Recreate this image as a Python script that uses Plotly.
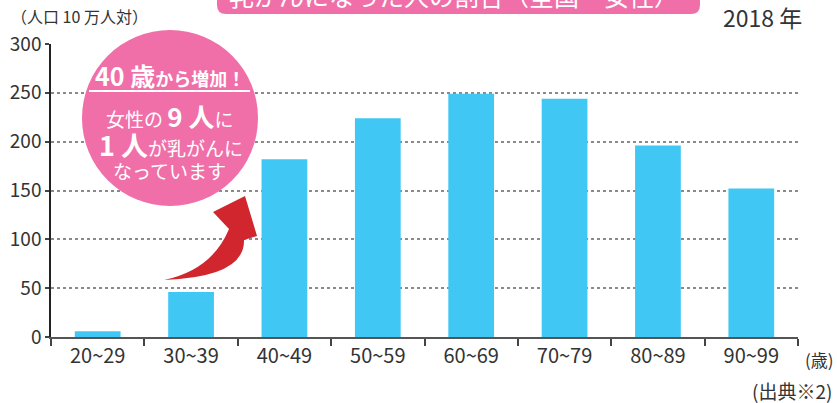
import plotly.graph_objects as go

categories = ["20~29", "30~39", "40~49", "50~59", "60~69", "70~79", "80~89", "90~99"]
values = [6, 46, 182, 224, 249, 244, 196, 152]
y_ticks = [0, 50, 100, 150, 200, 250, 300]

W, H = 837, 403
X0, X1, Y0, Y1 = 51, 798, 44, 337
L, T, R, B = X0, Y0, W - X1, H - Y1
PW, PH = X1 - X0, Y1 - Y0

def px(x):
    return (x - X0) / PW

def py(y):
    return (Y1 - y) / PH

def pt(x, y):
    return f"{px(x):.4f},{py(y):.4f}"

FONT = "Noto Sans CJK JP, Noto Sans, sans-serif"
PINK = "#F06FA8"
BAR = "#41C7F3"
TXT = "#333333"

fig = go.Figure(go.Bar(x=categories, y=values, marker_color=BAR, marker_line_width=0, width=0.49))

shapes = []
r = 9
shapes.append(dict(type="path", xref="paper", yref="paper", layer="above",
    path=(f"M {pt(217,-30)} L {pt(217,14-r)} Q {pt(217,14)} {pt(217+r,14)} "
          f"L {pt(700-r,14)} Q {pt(700,14)} {pt(700,14-r)} L {pt(700,-30)} Z"),
    fillcolor=PINK, line_width=0))
shapes.append(dict(type="circle", xref="paper", yref="paper", layer="above",
    x0=px(82), x1=px(258), y0=py(206), y1=py(30), fillcolor=PINK, line_width=0))
shapes.append(dict(type="line", xref="paper", yref="paper", layer="above",
    x0=px(89), x1=px(250), y0=py(91), y1=py(91), line=dict(color="white", width=2)))
shapes.append(dict(type="path", xref="paper", yref="paper", layer="above",
    path=(f"M {pt(164,280)} Q {pt(212,270)} {pt(229,229)} L {pt(213,212)} L {pt(245,196)} "
          f"L {pt(257,236)} L {pt(244,240)} Q {pt(245,277)} {pt(164,280)} Z"),
    fillcolor="#D2262E", line_width=0))

anns = []
def add(x, y, text, size, color=TXT, xanchor="center", yanchor="middle"):
    anns.append(dict(x=px(x), y=py(y), xref="paper", yref="paper", text=text, showarrow=False,
                     font=dict(family=FONT, size=size, color=color), xanchor=xanchor, yanchor=yanchor))

add(454, -5, "乳がんになった人の割合（全国・女性）", 25, color="white")
add(9, 16, "（人口 10 万人対）", 16, xanchor="left")
add(804, 17, "2018 年", 23, xanchor="right")
add(836, 359, "(歳)", 17, xanchor="right")
add(834, 390, "(出典※2)", 19, xanchor="right")

add(170, 75, "<b><span style='font-size:25px'>40 歳</span>から増加！</b>", 18, color="white")
add(170, 115, "女性の <b><span style='font-size:26px'>9 人</span></b>に", 19, color="white")
add(171, 144, "<b><span style='font-size:27px'>1 人</span></b>が乳がんに", 19, color="white")
add(169, 170, "なっています", 19, color="white")

fig.update_layout(
    width=W, height=H,
    margin=dict(l=L, r=R, t=T, b=B, autoexpand=False),
    paper_bgcolor="white", plot_bgcolor="white",
    showlegend=False,
    shapes=shapes, annotations=anns,
    font=dict(family=FONT, color=TXT),
    xaxis=dict(range=[-0.5, 7.5], showline=True, linecolor="#555555", linewidth=2,
               ticks="outside", tickson="boundaries", ticklen=7, tickcolor="#444444", tickwidth=2,
               tickfont=dict(size=20, color=TXT), showgrid=False, fixedrange=True, automargin=False),
    yaxis=dict(range=[0, 300], tickvals=y_ticks, showline=True, linecolor="#222222", linewidth=1.5,
               ticks="outside", ticklen=4, tickcolor="#444444", tickwidth=1.5,
               tickfont=dict(size=19, color=TXT), showgrid=True, gridcolor="#8a8a8a",
               gridwidth=1.5, griddash="3px,3px", zeroline=False, fixedrange=True, automargin=False),
)

fig.write_html("out.html", config={"displayModeBar": False},
               post_script="document.body.style.margin='0';document.body.style.overflow='hidden';")
